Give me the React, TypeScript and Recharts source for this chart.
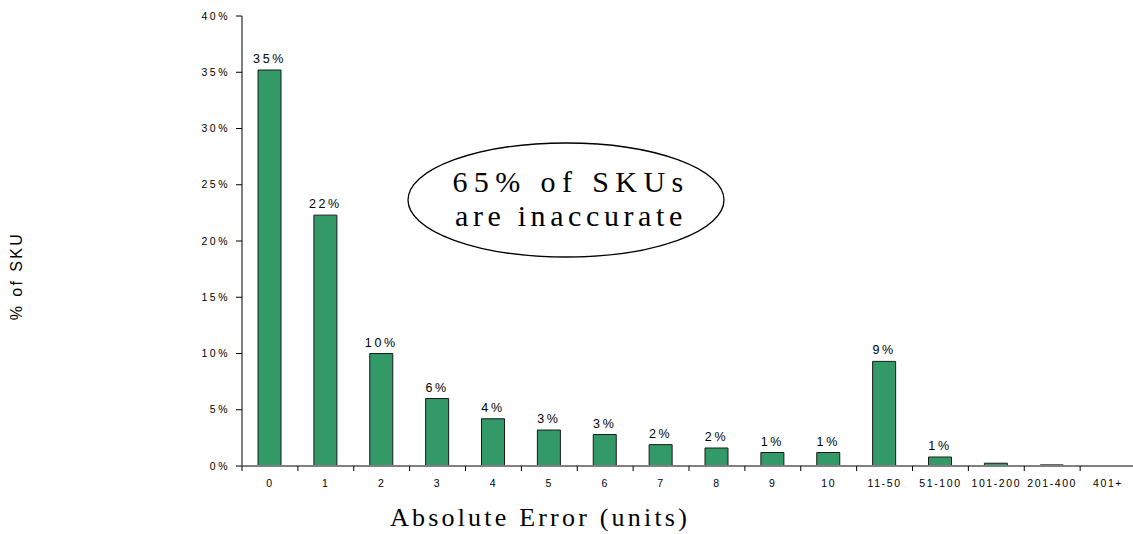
import React from 'react';
import { BarChart, Bar, XAxis, YAxis, LabelList } from 'recharts';

// Absolute count error buckets and the share of SKUs falling in each one (%)
const categories = ['0', '1', '2', '3', '4', '5', '6', '7', '8', '9', '10', '11-50', '51-100', '101-200', '201-400', '401+'];
const skuShare = [35.2, 22.3, 10.0, 6.0, 4.2, 3.2, 2.8, 1.9, 1.6, 1.2, 1.2, 9.3, 0.8, 0.25, 0.1, 0];
const yTicks = [0, 5, 10, 15, 20, 25, 30, 35, 40];

const data = categories.map((category, i) => ({ category, share: skuShare[i] }));

const CHART_W = 1136;
const CHART_H = 534;
const Y_AXIS_W = 242;
const X_AXIS_H = 68;
const MARGIN = { top: 16, right: 0, bottom: 0, left: 0 };
const BAND = (CHART_W - Y_AXIS_W - MARGIN.left - MARGIN.right) / categories.length;

const SANS = "'Liberation Sans', Arial, sans-serif";
const SERIF = "'Liberation Serif', 'Times New Roman', serif";

// Category label centred under the bar, with the tick mark on the band's left edge
const CategoryTick = (props: any) => {
  const { x, y, payload } = props;
  const edge = x - BAND / 2;
  return (
    <g>
      <line x1={edge} x2={edge} y1={y} y2={y + 5} stroke="#000" strokeWidth={1} />
      <text x={x} y={y + 21} textAnchor="middle" fontSize={10.5} fontFamily={SANS} letterSpacing={1.6} fill="#000">
        {payload.value}
      </text>
    </g>
  );
};

const percentLabel = (v: any) => {
  const n = Number(v);
  return n >= 0.5 ? `${Math.round(n)}%` : '';
};

export default function App() {
  return (
    <div style={{ position: 'absolute', left: 0, top: 0, width: 1133, height: 534, overflow: 'hidden', background: '#fff' }}>
      <BarChart width={CHART_W} height={CHART_H} data={data} margin={MARGIN}>
        <XAxis
          dataKey="category"
          interval={0}
          height={X_AXIS_H}
          tickLine={false}
          tickSize={0}
          tickMargin={0}
          axisLine={{ stroke: '#808080', strokeWidth: 2 }}
          tick={<CategoryTick />}
        />
        <YAxis
          width={Y_AXIS_W}
          domain={[0, 40]}
          ticks={yTicks}
          interval={0}
          tickSize={6}
          tickMargin={6}
          tickFormatter={(v: number) => `${v}%`}
          tickLine={{ stroke: '#000' }}
          axisLine={{ stroke: '#808080', strokeWidth: 2 }}
          tick={{ fontSize: 10.5, fill: '#000', fontFamily: SANS, letterSpacing: 2.5 }}
        />
        <Bar
          dataKey="share"
          barSize={23}
          fill="#339966"
          stroke="#1a1a1a"
          strokeWidth={1}
          isAnimationActive={false}
        >
          <LabelList
            dataKey="share"
            position="top"
            offset={7}
            formatter={percentLabel}
            style={{ fontSize: 12.5, fill: '#000', fontFamily: SANS, letterSpacing: 2.6 }}
          />
        </Bar>
      </BarChart>
      <svg
        width={1133}
        height={534}
        style={{ position: 'absolute', left: 0, top: 0, pointerEvents: 'none' }}
      >
        <text
          transform="translate(22 276) rotate(-90)"
          textAnchor="middle"
          fontSize={16}
          fontFamily={SANS}
          letterSpacing={2.4}
          fill="#000"
        >
          % of SKU
        </text>
        <ellipse cx={566} cy={200} rx={158} ry={57} fill="none" stroke="#000" strokeWidth={1.3} />
        <text x={571} y={192} textAnchor="middle" fontSize={30} fontFamily={SERIF} letterSpacing={6.4} fill="#000">
          65% of SKUs
        </text>
        <text x={571} y={226} textAnchor="middle" fontSize={30} fontFamily={SERIF} letterSpacing={4.6} fill="#000">
          are inaccurate
        </text>
        <text x={540} y={526} textAnchor="middle" fontSize={26} fontFamily={SERIF} letterSpacing={3.2} fill="#000">
          Absolute Error (units)
        </text>
      </svg>
    </div>
  );
}
